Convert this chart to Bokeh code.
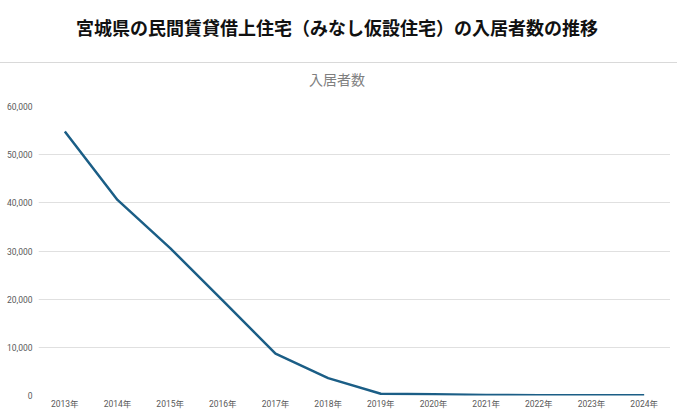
from bokeh.plotting import figure
from bokeh.models import FactorRange, Range1d, FixedTicker, NumeralTickFormatter, Div
from bokeh.layouts import column
from bokeh.embed import file_html
from bokeh.resources import INLINE

title_text = "宮城県の民間賃貸借上住宅（みなし仮設住宅）の入居者数の推移"
series_name = "入居者数"
years = ["2013年", "2014年", "2015年", "2016年", "2017年", "2018年",
         "2019年", "2020年", "2021年", "2022年", "2023年", "2024年"]
residents = [54800, 40600, 30600, 19700, 8700, 3600, 350, 250, 100, 60, 50, 50]
y_ticks = [0, 10000, 20000, 30000, 40000, 50000, 60000]

FONT = "Noto Sans CJK JP"
TICK_FONT = "Roboto, 'Noto Sans CJK JP'"

header = Div(width=664, height=88, text=f"""
<div style="position:relative;width:664px;height:88px;font-family:'{FONT}';">
  <div style="position:absolute;top:10px;left:0;width:664px;text-align:center;font-size:18px;font-weight:bold;color:#111;">{title_text}</div>
  <div style="position:absolute;top:57px;left:-8px;width:680px;border-top:1px solid #d9d9d9;"></div>
  <div style="position:absolute;top:64px;left:0;width:664px;text-align:center;font-size:14px;color:#7f7f7f;">{series_name}</div>
</div>
""")

p = figure(width=670, height=313, x_range=FactorRange(*years, range_padding=0),
           y_range=Range1d(0, 60000), output_backend="svg", toolbar_location=None,
           min_border_top=8, min_border_left=38, min_border_right=0, min_border_bottom=0)
p.outline_line_color = None
p.background_fill_color = "white"
p.border_fill_color = "white"

p.line(x=years, y=residents, line_color="#1b5e86", line_width=2.5)

p.yaxis.ticker = FixedTicker(ticks=y_ticks)
p.yaxis.formatter = NumeralTickFormatter(format="0,0")
for ax in (p.xaxis[0], p.yaxis[0]):
    ax.axis_line_color = None
    ax.major_tick_line_color = None
    ax.minor_tick_line_color = None
    ax.major_tick_out = 0
    ax.major_tick_in = 0
    ax.major_label_text_font = TICK_FONT
    ax.major_label_text_font_size = "8.5px"
    ax.major_label_text_color = "#595959"
p.yaxis.major_label_standoff = 6
p.xaxis.major_label_standoff = 3
p.xgrid.grid_line_color = None
p.ygrid.grid_line_color = "#e0e0e0"
p.ygrid.grid_line_width = 1

layout = column(header, p, spacing=0)
open("out.html", "w").write(file_html(layout, INLINE))
